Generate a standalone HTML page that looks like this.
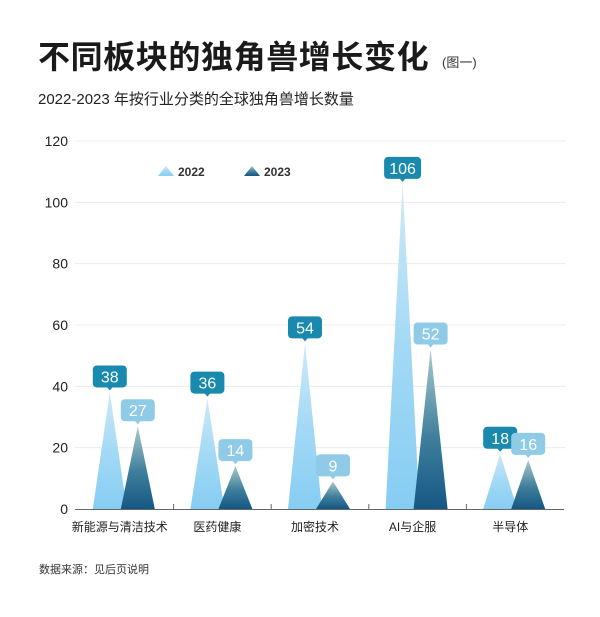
<!DOCTYPE html>
<html><head><meta charset="utf-8"><style>
body{margin:0;background:#fff;width:600px;height:612px;overflow:hidden;font-family:"Liberation Sans","Noto Sans CJK SC",sans-serif;}
</style></head><body>
<svg width="600" height="612" xmlns="http://www.w3.org/2000/svg" style="font-family:'Liberation Sans','Noto Sans CJK SC',sans-serif">
<defs>
<linearGradient id="g22" x1="0" y1="0" x2="0" y2="1"><stop offset="0" stop-color="#cfe9f8"/><stop offset="0.5" stop-color="#a3d9f5"/><stop offset="1" stop-color="#86cdf3"/></linearGradient>
<linearGradient id="g23" x1="0" y1="0" x2="0" y2="1"><stop offset="0" stop-color="#a9c9cc"/><stop offset="0.55" stop-color="#3f7f9c"/><stop offset="1" stop-color="#155784"/></linearGradient>
</defs>
<text x="38" y="68" font-size="32" font-weight="bold" letter-spacing="0.6" fill="#1a1a1a">不同板块的独角兽增长变化</text>
<text x="442" y="67" font-size="13" fill="#333">(图一)</text>
<text x="38" y="104" font-size="15" fill="#222">2022-2023 年按行业分类的全球独角兽增长数量</text>
<g id="grid"></g>
<g>
<polygon points="158,176 166,166 174,176" fill="url(#g22)"/>
<text x="178" y="176" font-size="12" font-weight="bold" fill="#333">2022</text>
<polygon points="244,176 252,166 260,176" fill="url(#g23)"/>
<text x="264" y="176" font-size="12" font-weight="bold" fill="#333">2023</text>
</g>
<g id="marks"></g>
<text x="39" y="573" font-size="11" fill="#333">数据来源：见后页说明</text>
</svg>
<script>
const categories=["新能源与清洁技术","医药健康","加密技术","AI与企服","半导体"];
const values2022=[38,36,54,106,18];
const values2023=[27,14,9,52,16];
const yTicks=[0,20,40,60,80,100,120];
const NS="http://www.w3.org/2000/svg";
const x0=76,x1=564,y0=509,yTop=141;
const bw=(x1-x0)/categories.length;
function y(v){return y0-(v/120)*(y0-yTop);}
function cx(i){return x0+bw*i+bw/2-1;}
function mk(tag,attrs,parent){const e=document.createElementNS(NS,tag);for(const k in attrs)e.setAttribute(k,attrs[k]);parent.appendChild(e);return e;}
const grid=document.getElementById('grid'),marks=document.getElementById('marks');
yTicks.forEach(t=>{
 if(t>0){const l=mk('line',{x1:75,x2:566,y1:y(t),y2:y(t),stroke:'#ececec','stroke-width':1},grid);
 
 }
 const tx=mk('text',{x:68,y:y(t)+5,'text-anchor':'end','font-size':14,fill:'#222'},grid);
 tx.textContent=t;
 
 
});
const ax=mk('line',{x1:75,x2:564,y1:y0+0.5,y2:y0+0.5,stroke:'#666','stroke-width':1},grid);


for(let i=1;i<categories.length;i++){
 const tk=mk('line',{x1:x0+bw*i,x2:x0+bw*i,y1:y0-5,y2:y0,stroke:'#666'},grid);
 
 
}
function label(px,py,v,fill,col){
 const w=v>=100?37:34;
 const g=mk('g',{},marks);
 
 
 mk('rect',{x:px-w/2,y:py-27,width:w,height:22,rx:4,fill:fill},g);
 mk('polygon',{points:`${px-3},${py-5.5} ${px+3},${py-5.5} ${px},${py-2}`,fill:fill},g);
 const t=mk('text',{x:px,y:py-10,'text-anchor':'middle','font-size':16,fill:col},g);
 t.textContent=v;
}
categories.forEach((c,i)=>{
 const c0=cx(i);
 const p1=c0-14,p2=c0+14,h=17;
 const a=mk('polygon',{points:`${p1-h},${y0} ${p1},${y(values2022[i])} ${p1+h},${y0}`,fill:'url(#g22)'},marks);
 
 
 const b=mk('polygon',{points:`${p2-h},${y0} ${p2},${y(values2023[i])} ${p2+h},${y0}`,fill:'url(#g23)'},marks);
 
 
 const t=mk('text',{x:c0-4,y:531,'text-anchor':'middle','font-size':12,fill:'#222'},marks);
 t.textContent=c;
 
 
});
categories.forEach((c,i)=>{
 const c0=cx(i);
 label(c0-14,y(values2022[i]),values2022[i],'#1989ad','#fff');
 label(c0+14,y(values2023[i]),values2023[i],'#8fcbe6','#fff');
});
</script>
</body></html>
